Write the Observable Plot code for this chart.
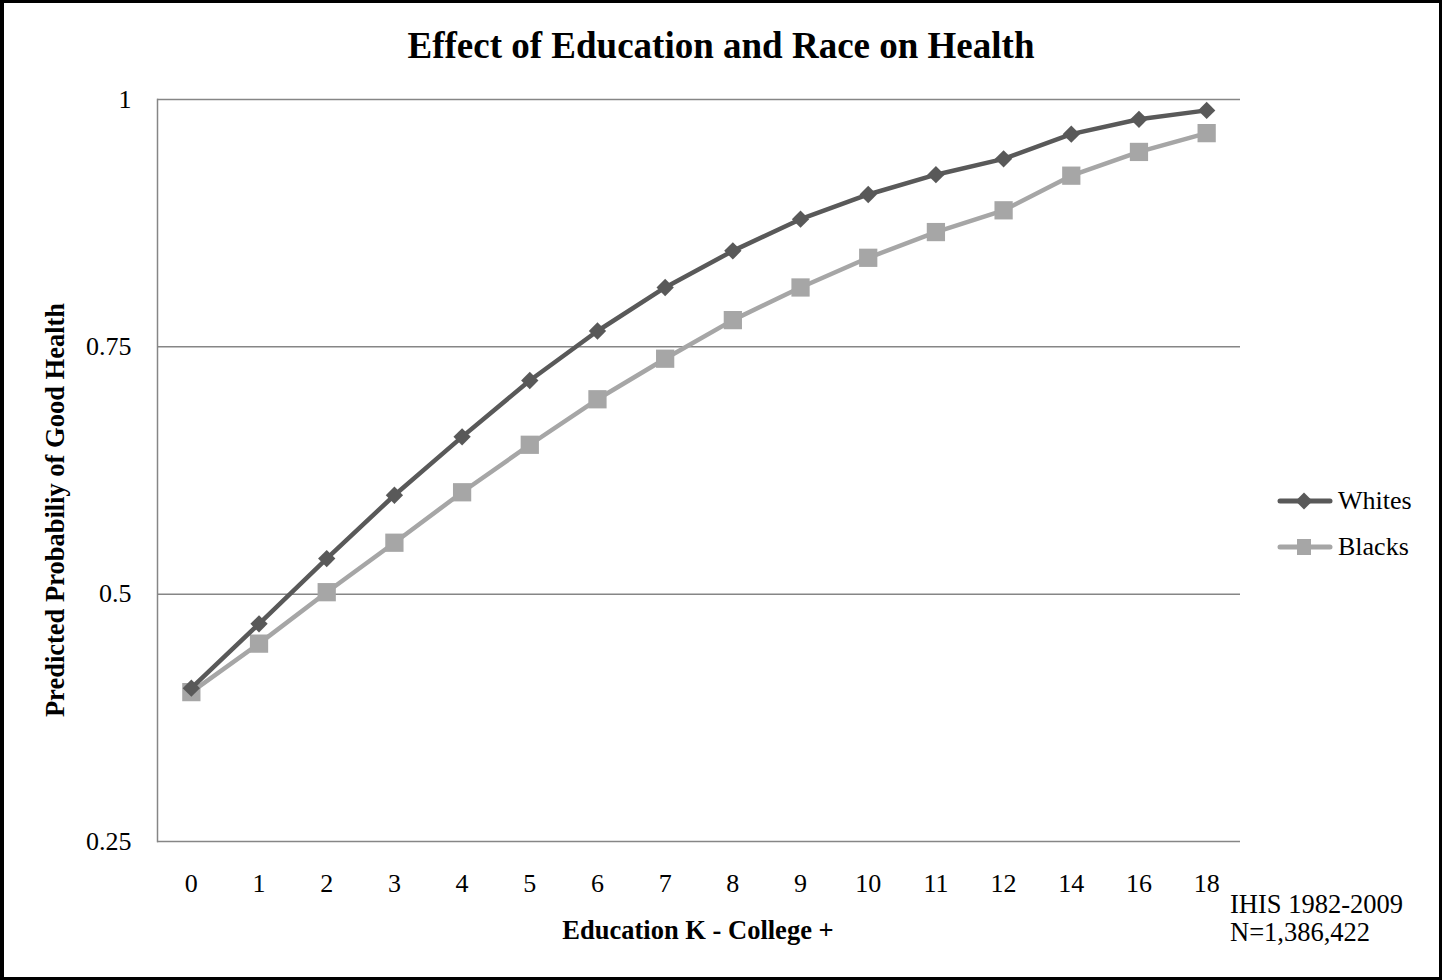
<!DOCTYPE html>
<html><head><meta charset="utf-8">
<script src="https://cdn.jsdelivr.net/npm/d3@7"></script>
<script src="https://cdn.jsdelivr.net/npm/@observablehq/plot@0.6"></script>
<style>
body{margin:0;background:#fff;font-family:"Liberation Serif","Times New Roman",serif;}
#wrap{position:relative;width:1442px;height:980px;overflow:hidden;}
#border{position:absolute;left:0;top:0;width:1442px;height:980px;box-sizing:border-box;border:3px solid #000;border-left-width:4px;pointer-events:none;}
#chart{position:absolute;left:0;top:0;}
.t{position:absolute;white-space:nowrap;color:#000;line-height:1;}
</style></head>
<body>
<div id="wrap">
  <div id="chart"></div>
  <div class="t" id="title" style="left:0;width:1442px;text-align:center;top:27px;font-size:37px;font-weight:bold;">Effect of Education and Race on Health</div>
  <div class="t" style="left:498px;top:917px;font-size:26.5px;font-weight:bold;width:400px;text-align:center;">Education K - College +</div>
  <div class="t" style="left:55px;top:510px;font-size:26.5px;font-weight:bold;transform:translate(-50%,-50%) rotate(-90deg);" id="ylab">Predicted Probabiliy of Good Health</div>
  <div class="t" style="left:1230px;top:890px;font-size:26.5px;line-height:28px;">IHIS 1982-2009<br>N=1,386,422</div>
  <div id="legend"></div>
  <div id="border"></div>
</div>
<script>
const educationLevels = ["0","1","2","3","4","5","6","7","8","9","10","11","12","14","16","18"];
const whites = [0.405,0.470,0.536,0.600,0.659,0.716,0.766,0.810,0.847,0.879,0.904,0.924,0.940,0.965,0.980,0.989];
const blacks = [0.401,0.450,0.502,0.552,0.603,0.651,0.697,0.738,0.777,0.810,0.840,0.866,0.888,0.923,0.947,0.966];
const yTicks = [0.25,0.5,0.75,1];
const seriesNames = ["Whites","Blacks"];
const seriesColors = ["#595959","#a6a6a6"];
const seriesSymbols = ["diamond2","square"];

const rows = [];
educationLevels.forEach((e,i)=>{
  rows.push({edu:e, v:whites[i], s:"Whites"});
  rows.push({edu:e, v:blacks[i], s:"Blacks"});
});
const W = rows.filter(d=>d.s==="Whites"), B = rows.filter(d=>d.s==="Blacks");

const plot = Plot.plot({
  width:1442, height:980,
  marginLeft:157, marginRight:202, marginTop:99, marginBottom:139,
  style:{fontFamily:"Liberation Serif, Times New Roman, serif", fontSize:"26px", color:"#000", background:"transparent"},
  x:{type:"point", domain:educationLevels, padding:0.5, round:false, label:null},
  y:{domain:[0.25,1], label:null},
  marks:[
    Plot.ruleY(yTicks, {stroke:"#868686", strokeWidth:1.5}),
    Plot.frame({anchor:"left", stroke:"#868686", strokeWidth:1.5}),
    Plot.axisY(yTicks, {tickSize:0, tickPadding:26, tickFormat:d=>String(d), label:null, fontSize:26}),
    Plot.axisX({tickSize:0, tickPadding:32, label:null, fontSize:26}),
    Plot.line(B, {x:"edu", y:"v", stroke:seriesColors[1], strokeWidth:4.5}),
    Plot.dot(B, {x:"edu", y:"v", symbol:seriesSymbols[1], fill:seriesColors[1], r:10.3, stroke:null}),
    Plot.line(W, {x:"edu", y:"v", stroke:seriesColors[0], strokeWidth:4.5}),
    Plot.dot(W, {x:"edu", y:"v", symbol:seriesSymbols[0], fill:seriesColors[0], r:7.8, stroke:null})
  ]
});
document.getElementById("chart").appendChild(plot);

// legend
const lg = document.getElementById("legend");
seriesNames.forEach((n,i)=>{
  const y = [501,547][i];
  const sym = i===0
    ? `<rect x="-6" y="-6" width="12" height="12" transform="translate(28,12) rotate(45)" fill="${seriesColors[i]}"/>`
    : `<rect x="21" y="4" width="14" height="16" fill="${seriesColors[i]}"/>`;
  lg.insertAdjacentHTML("beforeend",
    `<svg style="position:absolute;left:1276px;top:${y-12}px" width="60" height="24"><line x1="4" x2="54" y1="12" y2="12" stroke="${seriesColors[i]}" stroke-width="5" stroke-linecap="round"/>${sym}</svg>
     <div class="t" style="left:1338px;top:${y-14}px;font-size:26px;line-height:28px;">${n}</div>`);
});
</script>
</body></html>
